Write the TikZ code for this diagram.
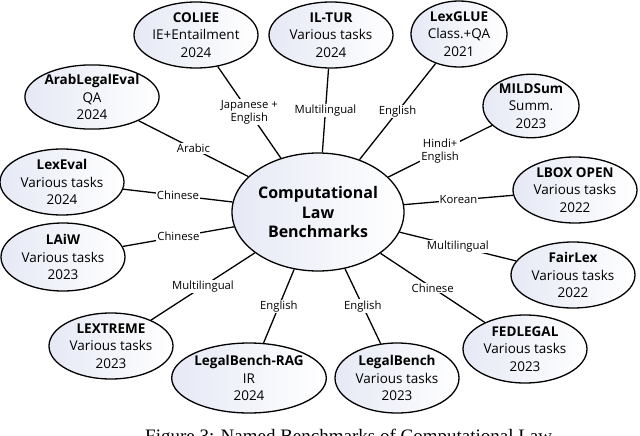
\documentclass[tikz,border=0pt]{standalone}
\usepackage{fontspec}
\setmainfont{Open Sans}
\newfontfamily\capfont{Liberation Serif}
\usetikzlibrary{shapes.geometric}
\definecolor{mist}{RGB}{230,233,245}
\tikzset{
  bench/.style={ellipse, draw, line width=1.3pt, left color=mist, right color=white,
    inner sep=0pt, minimum width=124pt, minimum height=66pt, align=center,
    font=\fontsize{13.5}{17.5}\selectfont},
  hub/.style={bench, minimum width=172pt, minimum height=118pt,
    font=\bfseries\fontsize{16}{19.5}\selectfont},
  lang/.style={fill=white, inner sep=1pt, align=center, font=\fontsize{11.3}{13}\selectfont},
  link/.style={line width=1.3pt}
}
\begin{document}
\begin{tikzpicture}[x=1pt, y=-1pt]
  \clip (0,0) rectangle (640,436);
  % hub
  \node[hub] (clb) at (318,212) {Computational\\Law\\Benchmarks};
  % benchmarks, clockwise from the top
  \node[bench] (coliee) at (196,35) {\textbf{COLIEE}\\IE+Entailment\\2024};
  \node[bench] (iltur) at (331,35) {\textbf{IL-TUR}\\Various tasks\\2024};
  \node[bench, minimum width=96pt] (lexglue) at (459,34) {\textbf{LexGLUE}\\Class.+QA\\2021};
  \node[bench, minimum width=96pt, minimum height=62pt] (mildsum) at (531,106) {\textbf{MILDSum}\\Summ.\\2023};
  \node[bench] (lbox) at (575,190) {\textbf{LBOX OPEN}\\Various tasks\\2022};
  \node[bench] (fairlex) at (573,275) {\textbf{FairLex}\\Various tasks\\2022};
  \node[bench, minimum height=68pt] (fedlegal) at (525,349) {\textbf{FEDLEGAL}\\Various tasks\\2023};
  \node[bench, minimum height=70pt] (lbench) at (397,378) {\textbf{LegalBench}\\Various tasks\\2023};
  \node[bench, minimum width=154pt, minimum height=70pt] (lbrag) at (249,378) {\textbf{LegalBench-RAG}\\IR\\2024};
  \node[bench] (lextreme) at (111,346) {\textbf{LEXTREME}\\Various tasks\\2023};
  \node[bench, minimum height=68pt] (laiw) at (63,257) {\textbf{LAiW}\\Various tasks\\2023};
  \node[bench] (lexeval) at (62,182) {\textbf{LexEval}\\Various tasks\\2024};
  \node[bench, minimum height=64pt] (arab) at (92,97) {\textbf{ArabLegalEval}\\QA\\2024};
  % links with languages
  \foreach \b/\l in {coliee/{Japanese +\\English}, iltur/Multilingual, lexglue/English,
      mildsum/{Hindi+\\English}, lbox/Korean, fairlex/Multilingual, fedlegal/Chinese,
      lbench/English, lbrag/English, lextreme/Multilingual, laiw/Chinese,
      lexeval/Chinese, arab/Arabic}
    \draw[link] (clb) -- node[lang] {\l} (\b);
  % caption, cut by the page edge
  \node[anchor=base west, inner sep=0pt, font=\capfont\fontsize{19}{22}\selectfont] (cap) at (145,442)
    {Figure 3: Named Benchmarks of Computational Law};
\end{tikzpicture}
\end{document}
